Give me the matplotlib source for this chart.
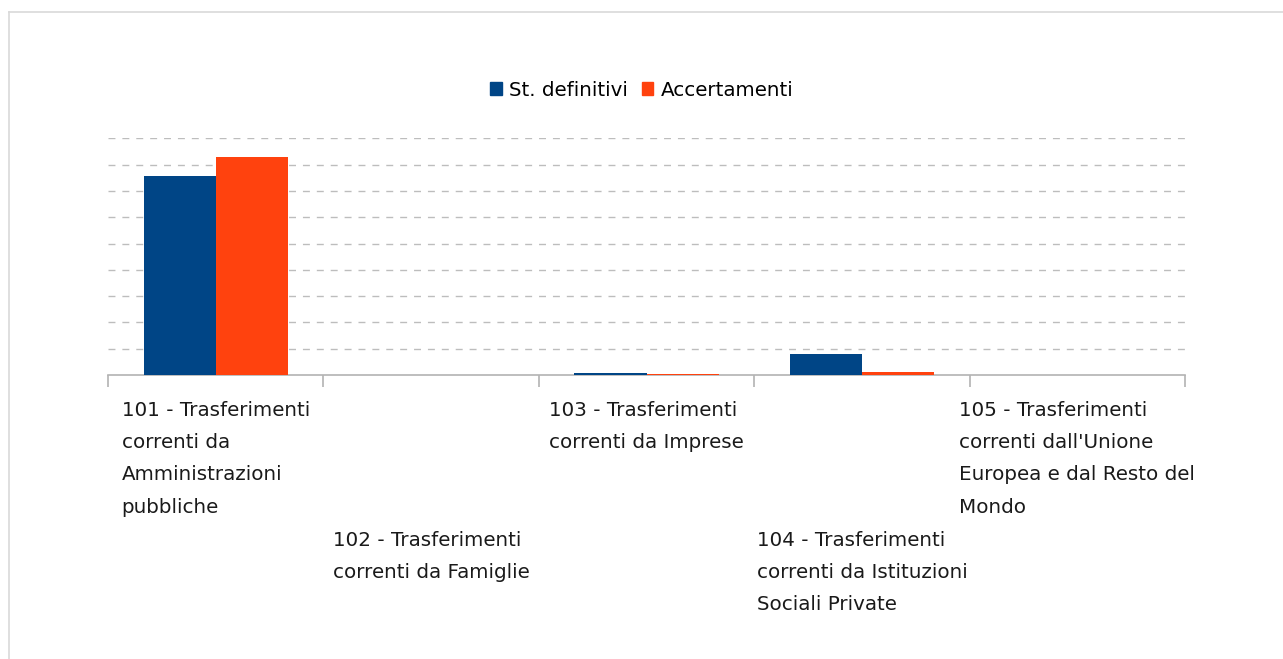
import matplotlib
matplotlib.use("Agg")
import matplotlib.pyplot as plt
from matplotlib.lines import Line2D
import numpy as np

categories = [
    "101 - Trasferimenti\ncorrenti da\nAmministrazioni\npubbliche",
    "102 - Trasferimenti\ncorrenti da Famiglie",
    "103 - Trasferimenti\ncorrenti da Imprese",
    "104 - Trasferimenti\ncorrenti da Istituzioni\nSociali Private",
    "105 - Trasferimenti\ncorrenti dall'Unione\nEuropea e dal Resto del\nMondo",
]
st_definitivi = [7.58, 0.0, 0.09, 0.81, 0.0]
accertamenti = [8.30, 0.0, 0.05, 0.13, 0.0]
series_names = ["St. definitivi", "Accertamenti"]
colors = ["#004586", "#ff420e"]

W, H = 1283, 659
fig = plt.figure(figsize=(W / 100, H / 100), dpi=100)
plt.rcParams['font.family'] = ['DejaVu Sans']

# outer frame (top + left)
fig.add_artist(Line2D([9 / W, 1.0], [1 - 12 / H, 1 - 12 / H], color="#d9d9d9", lw=1.2))
fig.add_artist(Line2D([9 / W, 9 / W], [0, 1 - 12 / H], color="#d9d9d9", lw=1.2))

ax = fig.add_axes([108 / W, 284 / H, 1077 / W, 236.6 / H])
n = len(categories)
x = np.arange(n)
bw = 0.335
ax.bar(x - bw / 2, st_definitivi, width=bw, color=colors[0], zorder=3)
ax.bar(x + bw / 2, accertamenti, width=bw, color=colors[1], zorder=3)

ax.set_xlim(-0.5, n - 0.5)
ax.set_ylim(0, 9)
for v in range(1, 10):
    ax.axhline(v, color="#bdbdbd", lw=1, ls=(0, (5, 5)), zorder=1)

for s in ["top", "right", "left"]:
    ax.spines[s].set_visible(False)
ax.spines["bottom"].set_color("#b3b3b3")
ax.spines["bottom"].set_linewidth(1.2)
ax.set_yticks([])
ax.set_xticks(np.arange(n + 1) - 0.5)
ax.set_xticklabels([])
ax.tick_params(axis="x", length=8.5, width=1.2, color="#b3b3b3", direction="out")

# category labels, staggered
row_y = [401, 531, 401, 531, 401]
for i, lab in enumerate(categories):
    ax.text(i, 1 - (row_y[i] - 138.7) / 236.6, lab, transform=ax.get_xaxis_transform(),
            ha="center", va="top", multialignment="left", fontsize=14.3,
            linespacing=1.89, color="#1a1a1a")

# legend
handles = [plt.Rectangle((0, 0), 1, 1, color=c) for c in colors]
fig.legend(handles, series_names, loc="center", bbox_to_anchor=(0.5, 1 - 90 / H),
           ncol=2, frameon=False, fontsize=14.3, handlelength=0.6, handleheight=0.6,
           handletextpad=0.35, columnspacing=0.7)

fig.savefig("out.png", dpi=100)
